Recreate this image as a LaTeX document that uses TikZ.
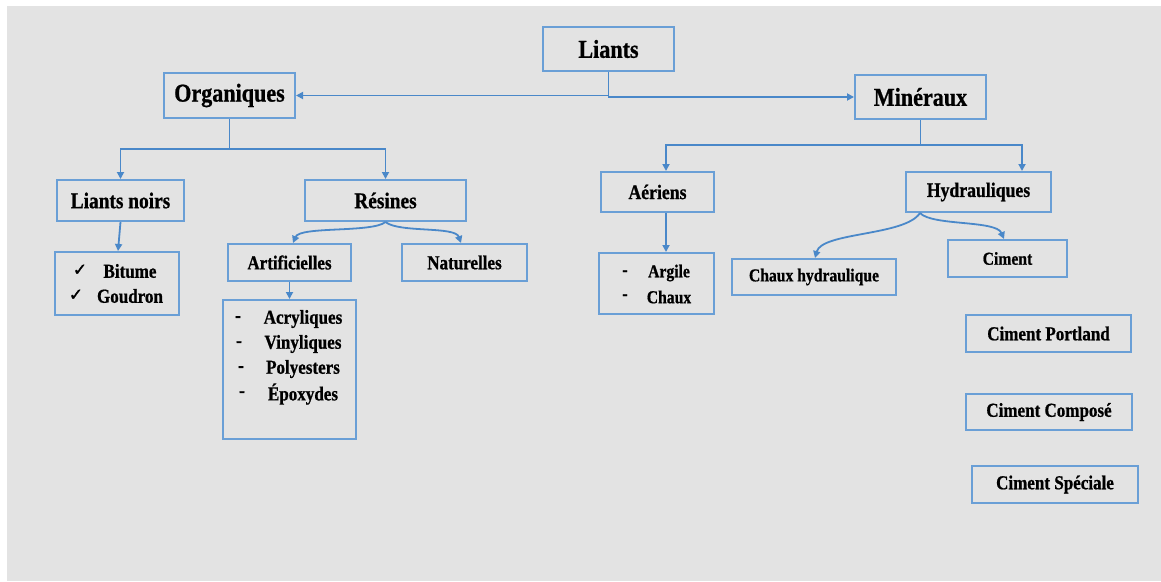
\documentclass[tikz,border=0pt]{standalone}
\usepackage{fontspec}
\setmainfont{Liberation Serif}[FakeStretch=0.86, FakeBold=0.8]
\newfontfamily\dejavu{DejaVu Sans}[FakeBold=1.5]
\usetikzlibrary{arrows.meta}
\definecolor{bgc}{HTML}{E3E3E3}
\definecolor{bxc}{HTML}{6A9FD6}
\definecolor{lnc}{HTML}{4A88C9}
\tikzset{
  box/.style={draw=bxc, line width=2pt, inner sep=0pt},
  conn/.style={draw=lnc, line width=1.8pt, -{Triangle[length=7pt,width=7pt]}},
  plainline/.style={draw=lnc, line width=1.8pt},
  tA/.style={font=\fontsize{25.7}{30}\selectfont\bfseries},
  tB/.style={font=\fontsize{22.5}{26}\selectfont\bfseries},
  tBr/.style={font=\fontsize{20.6}{24}\selectfont\bfseries},
  tC/.style={font=\fontsize{19.8}{23}\selectfont\bfseries},
  tCr/.style={font=\fontsize{18.2}{21}\selectfont\bfseries},
  item/.style={inner sep=0pt, anchor=center},
}
\begin{document}
\begin{tikzpicture}[x=1pt,y=-1pt]
\useasboundingbox (0,0) rectangle (1161,581);
\fill[white] (0,0) rectangle (1161,581);
\fill[bgc] (7,6) rectangle (1161,581);

% level 1
\node[box, tA, minimum width=131pt, minimum height=44pt] (liants) at (608.5,49) {Liants};
\node[box, tA, minimum width=131pt, minimum height=45pt] (org) at (229.5,95.5) {Organiques};
\node[box, tA, minimum width=131pt, minimum height=44pt] (min) at (920.5,97) {Minéraux};

% level 2
\node[box, tB, minimum width=127pt, minimum height=41pt] (noirs) at (120.5,200.5) {Liants noirs};
\node[box, tB, minimum width=161pt, minimum height=41pt] (res) at (385.5,200.5) {Résines};
\node[box, tBr, minimum width=113pt, minimum height=40pt] (aer) at (657.5,192) {Aériens};
\node[box, tBr, minimum width=145pt, minimum height=40pt] (hyd) at (978.5,192) {Hydrauliques};

% level 3
\node[box, minimum width=124pt, minimum height=63pt] (bit) at (117,283.5) {};
\node[box, tC, minimum width=123pt, minimum height=37pt] (art) at (289.5,262.5) {Artificielles};
\node[box, tC, minimum width=125pt, minimum height=37pt] (nat) at (464.5,262.5) {Naturelles};
\node[box, minimum width=133pt, minimum height=139pt] (acr) at (289.5,369.5) {};
\node[box, minimum width=115pt, minimum height=61pt] (arg) at (656.5,283.5) {};
\node[box, tCr, minimum width=164pt, minimum height=36pt] (chh) at (814,277) {Chaux hydraulique};
\node[box, tCr, minimum width=119pt, minimum height=37pt] (cim) at (1007.5,258.5) {Ciment};
\node[box, tC, minimum width=165pt, minimum height=37pt] (cpo) at (1048.5,333.5) {Ciment Portland};
\node[box, tC, minimum width=166pt, minimum height=36pt] (cco) at (1049,412) {Ciment Composé};
\node[box, tC, minimum width=166pt, minimum height=37pt] (csp) at (1055,484.5) {Ciment Spéciale};

% list contents
\node[item, font=\dejavu\fontsize{17}{20}\selectfont] (ck1) at (80,270) {✓};
\node[item, tC] (bitt) at (130,271) {Bitume};
\node[item, font=\dejavu\fontsize{17}{20}\selectfont] (ck2) at (76,295) {✓};
\node[item, tC] (goud) at (130,296) {Goudron};

\node[item, tC] (d1) at (238,319) {-};
\node[item, tC] (acry) at (303,319) {Acryliques};
\node[item, tC] (d2) at (239,344) {-};
\node[item, tC] (viny) at (303,344) {Vinyliques};
\node[item, tC] (d3) at (241,369) {-};
\node[item, tC] (poly) at (303,369) {Polyesters};
\node[item, tC] (d4) at (242,394) {-};
\node[item, tC] (epox) at (303,394) {Époxydes};

\node[item, tCr] (d5) at (625,273) {-};
\node[item, tCr] (argt) at (669,273) {Argile};
\node[item, tCr] (d6) at (625,297) {-};
\node[item, tCr] (chxt) at (669,297) {Chaux};

% connectors
\draw[conn] (liants.south) |- (org.east);
\draw[conn] (liants.south) |- (min.west);

\coordinate (jo) at (229.5,149);
\draw[plainline] (org.south) -- (jo);
\draw[conn] (jo) -| (noirs.north);
\draw[conn] (jo) -| (res.north);

\coordinate (jm) at (920.5,145);
\draw[plainline] (min.south) -- (jm);
\draw[conn] (jm) -| ([xshift=8.5pt]aer.north);
\draw[conn] (jm) -| ([xshift=43.5pt]hyd.north);

\draw[conn] (noirs.south) -- ([xshift=1pt]bit.north);
\draw[conn] ([xshift=8.5pt]aer.south) -- ([xshift=9.5pt]arg.north);
\draw[conn] (art.south) -- (acr.north);

\draw[conn] (res.south) .. controls (372,233) and (300,226) .. ([xshift=3.5pt]art.north);
\draw[conn] (res.south) .. controls (399,233) and (455,226) .. ([xshift=-3.5pt]nat.north);

\draw[conn] ([xshift=-58.5pt]hyd.south) .. controls (905,236) and (822,232) .. ([xshift=1pt]chh.north);
\draw[conn] ([xshift=-58.5pt]hyd.south) .. controls (932,226) and (996,220) .. ([xshift=-3.5pt]cim.north);
\end{tikzpicture}
\end{document}
